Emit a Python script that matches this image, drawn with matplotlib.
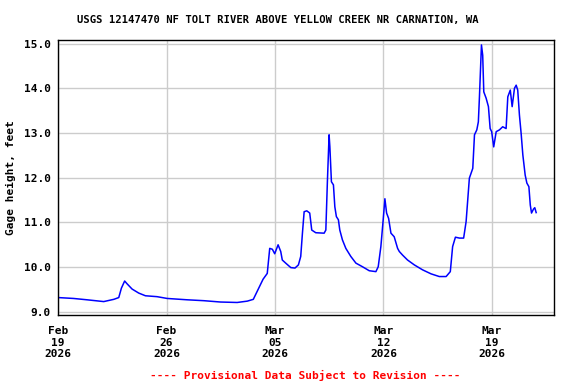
import matplotlib
matplotlib.use('Agg')
import matplotlib.pyplot as plt
import matplotlib.dates as mdates
import numpy as np
import pandas as pd

# days after 2026-02-19 00:00 and gage height (feet)
days = [0.0, 1.0, 1.87, 2.95, 3.6, 3.92, 4.09, 4.3, 4.45, 4.78, 5.21, 5.64, 6.39,
        7.04, 8.33, 9.41, 10.49, 11.56, 12.21, 12.6, 13.23, 13.5, 13.66, 13.83,
        13.98, 14.2, 14.37, 14.47, 14.69, 15.02, 15.29, 15.51, 15.66, 15.77, 15.88,
        16.05, 16.24, 16.37, 16.63, 17.17, 17.28, 17.38, 17.49, 17.54, 17.64,
        17.77, 17.86, 17.96, 18.09, 18.18, 18.35, 18.57, 18.89, 19.22, 19.64,
        20.08, 20.51, 20.66, 20.83, 20.98, 21.09, 21.2, 21.33, 21.48, 21.69,
        21.91, 22.02, 22.23, 22.55, 22.99, 23.52, 24.07, 24.6, 25.04, 25.31,
        25.46, 25.64, 25.9, 26.17, 26.33, 26.54, 26.76, 26.87, 27.02, 27.12,
        27.19, 27.32, 27.4, 27.47, 27.62, 27.77, 27.88, 27.98, 28.11, 28.27,
        28.48, 28.69, 28.91, 29.02, 29.18, 29.3, 29.45, 29.56, 29.66, 29.77,
        29.88, 29.99, 30.14, 30.25, 30.38, 30.47, 30.55, 30.68, 30.76, 30.85]
gage = [9.32, 9.30, 9.27, 9.23, 9.28, 9.32, 9.53, 9.69, 9.63, 9.51, 9.42, 9.36, 9.34,
        9.30, 9.27, 9.25, 9.22, 9.21, 9.24, 9.28, 9.73, 9.86, 10.42, 10.40,
        10.30, 10.50, 10.35, 10.16, 10.09, 9.99, 9.98, 10.05, 10.24, 10.76, 11.24,
        11.26, 11.21, 10.83, 10.77, 10.76, 10.83, 11.91, 12.96, 12.69, 11.91,
        11.84, 11.35, 11.13, 11.06, 10.83, 10.61, 10.42, 10.24, 10.09, 10.01,
        9.92, 9.90, 10.01, 10.46, 11.06, 11.53, 11.21, 11.09, 10.76, 10.68,
        10.42, 10.35, 10.27, 10.16, 10.05, 9.94, 9.85, 9.79, 9.79, 9.90,
        10.46, 10.67, 10.65, 10.65, 11.02, 11.99, 12.21, 12.96, 13.07, 13.25,
        13.81, 14.97, 14.74, 13.92, 13.78, 13.59, 13.10, 13.03, 12.69, 13.03,
        13.07, 13.14, 13.10, 13.81, 13.96, 13.59, 14.00, 14.07, 13.96, 13.40,
        12.99, 12.51, 12.06, 11.88, 11.80, 11.39, 11.21, 11.30, 11.33, 11.22]

start = pd.Timestamp('2026-02-19')
times = start + pd.to_timedelta(days, unit='D')
tick_dates = pd.date_range('2026-02-19', periods=5, freq='7D')
yticks = np.arange(9.0, 15.01, 1.0)

plt.rcParams['font.family'] = 'DejaVu Sans Mono'
plt.rcParams['font.weight'] = 'bold'
plt.rcParams['font.size'] = 8

fig = plt.figure(figsize=(5.76, 3.84), dpi=100)
ax = fig.add_axes([0.1007, 0.1797, 0.8611, 0.7161])

ax.plot(times, gage, color='#0000ff', lw=1.1)

ax.set_xlim(start, start + pd.Timedelta(days=32))
ax.set_ylim(8.93, 15.08)
ax.set_yticks(yticks)
ax.set_yticklabels(['{0:.1f}'.format(v) for v in yticks])
ax.set_xticks(tick_dates)
ax.set_xticklabels([d.strftime('%b\n%d\n%Y') for d in tick_dates], linespacing=1.2)
ax.tick_params(length=0, pad=5)
ax.tick_params(axis='x', pad=8)
ax.grid(True, color='#cccccc', lw=1)
ax.set_axisbelow(True)
for s in ax.spines.values():
    s.set_linewidth(1)

ax.set_ylabel('Gage height, feet', fontweight='bold', labelpad=6)
fig.text(278 / 576, 1 - 20 / 384, 'USGS 12147470 NF TOLT RIVER ABOVE YELLOW CREEK NR CARNATION, WA',
         ha='center', va='center', fontweight='bold', fontsize=7.6)
fig.text(305 / 576, 1 - 375 / 384, '---- Provisional Data Subject to Revision ----',
         ha='center', va='center', color='red', fontweight='bold')

fig.savefig('out.png', dpi=100)
